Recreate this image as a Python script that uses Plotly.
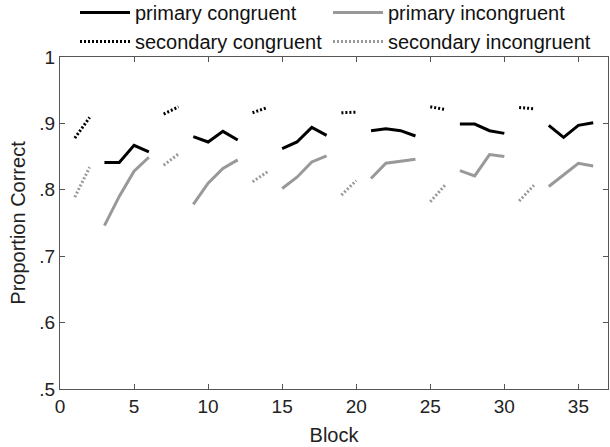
import plotly.graph_objects as go

# Blocks 1..36; each 6-block cycle: blocks 1-2 secondary task, blocks 3-6 primary task
blocks = list(range(1, 37))

primary_congruent_blocks = [3, 4, 5, 6, 9, 10, 11, 12, 15, 16, 17, 18, 21, 22, 23, 24, 27, 28, 29, 30, 33, 34, 35, 36]
primary_congruent = [0.841, 0.841, 0.867, 0.857,
                     0.880, 0.872, 0.888, 0.875,
                     0.862, 0.872, 0.894, 0.882,
                     0.889, 0.892, 0.889, 0.881,
                     0.899, 0.899, 0.889, 0.885,
                     0.897, 0.879, 0.897, 0.901]
primary_incongruent = [0.746, 0.790, 0.828, 0.849,
                       0.778, 0.810, 0.832, 0.845,
                       0.802, 0.819, 0.842, 0.851,
                       0.817, 0.840, 0.843, 0.846,
                       0.829, 0.821, 0.853, 0.850,
                       0.805, 0.822, 0.840, 0.836]

secondary_blocks = [1, 2, 7, 8, 13, 14, 19, 20, 25, 26, 31, 32]
secondary_congruent = [0.878, 0.909, 0.914, 0.925, 0.916, 0.924,
                       0.916, 0.917, 0.925, 0.921, 0.924, 0.922]
secondary_incongruent = [0.789, 0.834, 0.837, 0.854, 0.812, 0.827,
                         0.792, 0.814, 0.782, 0.807, 0.783, 0.807]

y_tickvals = [0.5, 0.6, 0.7, 0.8, 0.9, 1.0]
y_ticktext = [".5", ".6", ".7", ".8", ".9", "1"]
x_tickvals = [0, 5, 10, 15, 20, 25, 30, 35]


def with_gaps(sel_blocks, values):
    lookup = dict(zip(sel_blocks, values))
    return [lookup.get(b) for b in blocks]


FONT = "Liberation Sans, Arial, sans-serif"
fig = go.Figure()
series = [
    ("primary congruent", primary_congruent_blocks, primary_congruent, "#000000", "solid", "legend"),
    ("secondary congruent", secondary_blocks, secondary_congruent, "#000000", "2px,2px", "legend"),
    ("primary incongruent", primary_congruent_blocks, primary_incongruent, "#999999", "solid", "legend2"),
    ("secondary incongruent", secondary_blocks, secondary_incongruent, "#999999", "2px,2px", "legend2"),
]
for name, bl, vals, color, dash, leg in series:
    fig.add_trace(go.Scatter(
        x=blocks, y=with_gaps(bl, vals), name=name, mode="lines",
        connectgaps=False, legend=leg,
        line=dict(color=color, width=3, dash=dash),
    ))

axis_common = dict(
    showline=True, linecolor="#555555", linewidth=1, mirror="ticks",
    ticks="inside", ticklen=5, tickcolor="#555555", showgrid=False, zeroline=False,
    tickfont=dict(family=FONT, size=19, color="#222222"),
)
fig.update_xaxes(range=[0, 37], tickvals=x_tickvals,
                 title=dict(text="Block", font=dict(family=FONT, size=20, color="#222222"), standoff=12),
                 **axis_common)
fig.update_yaxes(range=[0.5, 1.0], tickvals=y_tickvals, ticktext=y_ticktext,
                 title=dict(text="Proportion Correct", font=dict(family=FONT, size=20, color="#222222"), standoff=8),
                 **axis_common)

PLOT_H = 447 - 57 - 58
PLOT_W = 610 - 60 - 2

legend_common = dict(
    orientation="v", xref="paper", yref="paper",
    y=1 + (57 + 7) / PLOT_H, xanchor="left", yanchor="top",
    itemwidth=50, tracegroupgap=0,
    font=dict(family=FONT, size=20, color="#111111"),
    bgcolor="rgba(0,0,0,0)", traceorder="normal",
)

fig.update_layout(
    width=610, height=447,
    margin=dict(l=60, r=2, t=57, b=58, autoexpand=False),
    paper_bgcolor="white", plot_bgcolor="white",
    font=dict(family=FONT, color="#222222"),
    legend=dict(x=(75 - 60) / PLOT_W, **legend_common),
    legend2=dict(x=(75 + 253 - 60) / PLOT_W, **legend_common),
)

fig.write_html("out.html")
